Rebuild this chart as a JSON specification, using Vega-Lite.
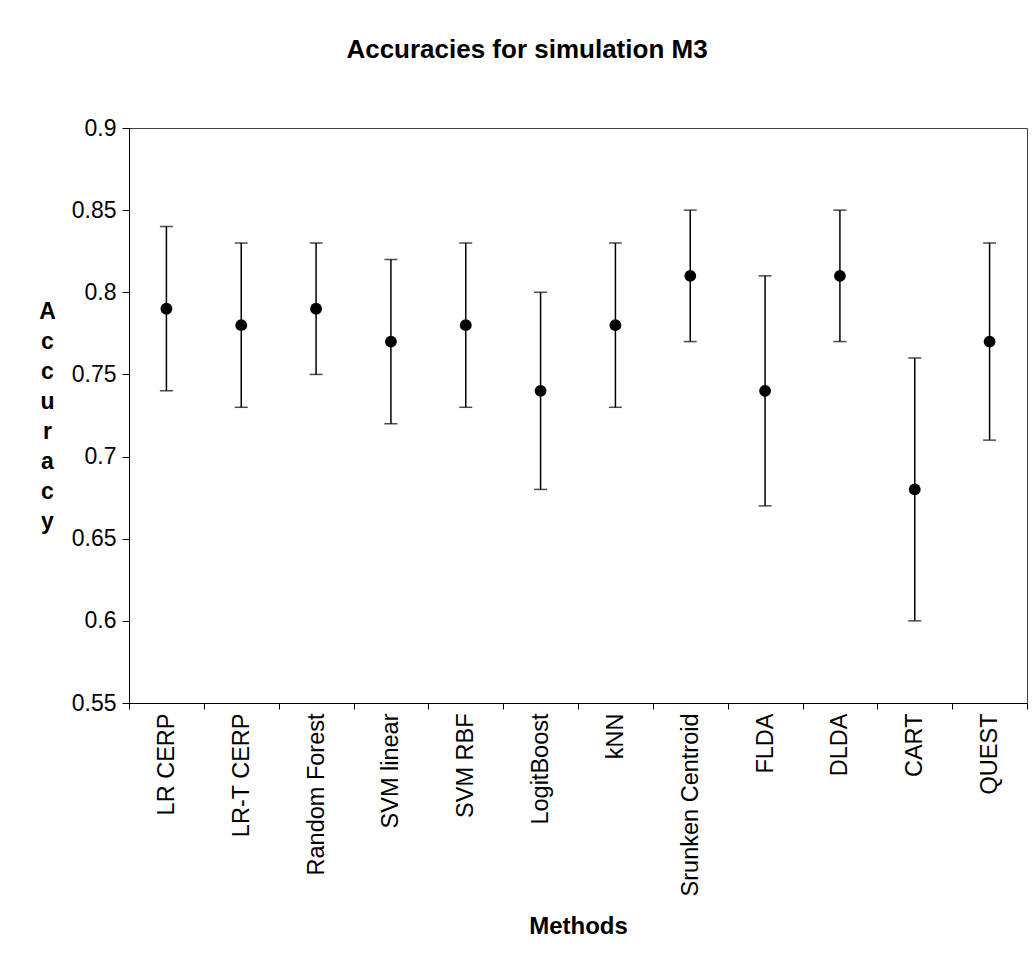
{
  "$schema": "https://vega.github.io/schema/vega-lite/v6.json",
  "width": 898,
  "height": 575,
  "autosize": {"type": "none"},
  "padding": {"left": 129, "top": 128, "right": 7, "bottom": 255},
  "background": "white",
  "config": {
    "font": "Liberation Sans",
    "view": {"stroke": "#404040", "strokeWidth": 1}
  },
  "title": {
    "text": "Accuracies for simulation M3",
    "font": "Liberation Sans",
    "fontSize": 26,
    "fontWeight": "bold",
    "color": "black",
    "anchor": "middle",
    "frame": "group",
    "baseline": "alphabetic",
    "offset": 33,
    "dx": -51
  },
  "data": {
    "values": [
      {"method": "LR CERP", "acc": 0.79, "low": 0.74, "high": 0.84},
      {"method": "LR-T CERP", "acc": 0.78, "low": 0.73, "high": 0.83},
      {"method": "Random Forest", "acc": 0.79, "low": 0.75, "high": 0.83},
      {"method": "SVM linear", "acc": 0.77, "low": 0.72, "high": 0.82},
      {"method": "SVM RBF", "acc": 0.78, "low": 0.73, "high": 0.83},
      {"method": "LogitBoost", "acc": 0.74, "low": 0.68, "high": 0.80},
      {"method": "kNN", "acc": 0.78, "low": 0.73, "high": 0.83},
      {"method": "Srunken Centroid", "acc": 0.81, "low": 0.77, "high": 0.85},
      {"method": "FLDA", "acc": 0.74, "low": 0.67, "high": 0.81},
      {"method": "DLDA", "acc": 0.81, "low": 0.77, "high": 0.85},
      {"method": "CART", "acc": 0.68, "low": 0.60, "high": 0.76},
      {"method": "QUEST", "acc": 0.77, "low": 0.71, "high": 0.83}
    ]
  },
  "encoding": {
    "x": {
      "field": "method",
      "type": "nominal",
      "sort": null,
      "scale": {"paddingInner": 0, "paddingOuter": 0},
      "axis": {
        "title": "Methods",
        "titleFont": "Liberation Sans",
        "titleFontSize": 24,
        "titleFontWeight": "bold",
        "titleColor": "black",
        "titleBaseline": "alphabetic",
        "titleY": 230,
        "labelAngle": -90,
        "labelFont": "Liberation Sans",
        "labelFontSize": 23.5,
        "labelColor": "black",
        "labelPadding": 4,
        "labelLimit": 0,
        "tickBand": "extent",
        "tickSize": 6,
        "tickColor": "black",
        "domainColor": "black",
        "grid": false
      }
    }
  },
  "layer": [
    {
      "mark": {"type": "rule", "color": "black", "strokeWidth": 1.5},
      "encoding": {
        "y": {
          "field": "low",
          "type": "quantitative",
          "scale": {"domain": [0.55, 0.9], "nice": false, "zero": false},
          "axis": {
            "title": ["A", "c", "c", "u", "r", "a", "c", "y"],
            "titleAngle": 0,
            "titleAlign": "center",
            "titleBaseline": "alphabetic",
            "titleX": -82,
            "titleY": 190,
            "titleLineHeight": 30,
            "titleFont": "Liberation Sans",
            "titleFontSize": 23,
            "titleFontWeight": "bold",
            "titleColor": "black",
            "values": [0.55, 0.6, 0.65, 0.7, 0.75, 0.8, 0.85, 0.9],
            "format": ".2~f",
            "labelFont": "Liberation Sans",
            "labelFontSize": 23,
            "labelColor": "black",
            "labelPadding": 6,
            "tickSize": 7,
            "tickColor": "black",
            "domainColor": "black",
            "grid": false
          }
        },
        "y2": {"field": "high"}
      }
    },
    {
      "mark": {"type": "tick", "color": "black", "size": 13, "thickness": 1.5},
      "encoding": {"y": {"field": "low", "type": "quantitative"}}
    },
    {
      "mark": {"type": "tick", "color": "black", "size": 13, "thickness": 1.5},
      "encoding": {"y": {"field": "high", "type": "quantitative"}}
    },
    {
      "mark": {"type": "point", "shape": "circle", "filled": true, "size": 140, "color": "black", "opacity": 1},
      "encoding": {"y": {"field": "acc", "type": "quantitative"}}
    }
  ]
}
